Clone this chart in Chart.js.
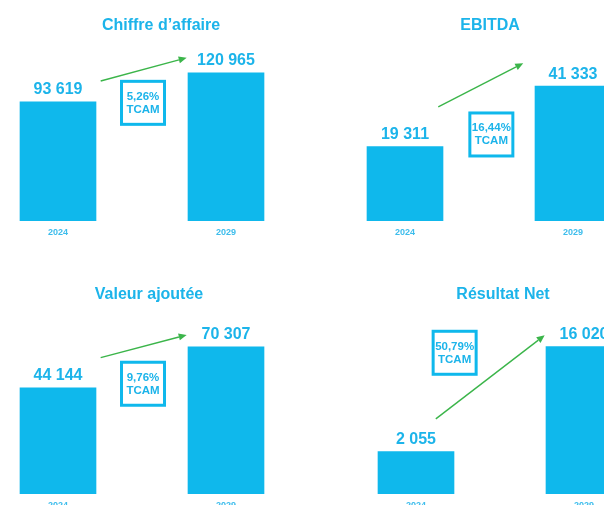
<!DOCTYPE html>
<html lang="fr">
<head>
<meta charset="utf-8">
<title>Indicateurs 2024 - 2029</title>
<script src="https://cdn.jsdelivr.net/npm/chart.js"></script>
<style>
  html, body { margin: 0; padding: 0; width: 604px; height: 505px; overflow: hidden; background: #fff; }
  canvas { position: absolute; }
</style>
</head>
<body>
<canvas id="chart-ca"></canvas>
<canvas id="chart-ebitda"></canvas>
<canvas id="chart-va"></canvas>
<canvas id="chart-rn"></canvas>
<script>
const annees = ['2024', '2029'];
const titres = ['Chiffre d’affaire', 'EBITDA', 'Valeur ajoutée', 'Résultat Net'];
const chiffreAffaire = [93619, 120965];
const ebitda = [19311, 41333];
const valeurAjoutee = [44144, 70307];
const resultatNet = [2055, 16020];
const tcam = ['5,26%', '16,44%', '9,76%', '50,79%'];

const BLEU = '#0fb8ec';
const BLEU_TEXTE = '#1cb4ea';
const BLEU_ANNEE = '#3dbdec';
const VERT = '#3bb54a';
const FONT = '"Liberation Sans", Arial, Helvetica, sans-serif';

// Mise en page de chaque graphique (flèche et encadré en fraction de la zone du graphique)
const panneaux = [
    { id: 'chart-ca', titre: titres[0], valeurs: chiffreAffaire, tcam: tcam[0],
      left: -26, top: 0, width: 374, height: 246, padRight: 38, padBottom: 2.2,
      yMin: -18900, yMax: 142400,
      fleche: [0.377, 0.181, 0.633, 0.046], cadre: [0.503, 0.309] },
    { id: 'chart-ebitda', titre: titres[1], valeurs: ebitda, tcam: tcam[1],
      left: 321, top: 0, width: 338, height: 246, padRight: 2, padBottom: 2.2,
      yMin: -7650, yMax: 54400,
      fleche: [0.349, 0.332, 0.602, 0.078], cadre: [0.507, 0.494] },
    { id: 'chart-va', titre: titres[2], valeurs: valeurAjoutee, tcam: tcam[2],
      left: -26, top: 269, width: 350, height: 251, padRight: 14, padBottom: 3.2,
      yMin: -23700, yMax: 88000,
      fleche: [0.377, 0.221, 0.633, 0.091], cadre: [0.503, 0.370] },
    { id: 'chart-rn', titre: titres[3], valeurs: resultatNet, tcam: tcam[3],
      left: 332, top: 269, width: 342, height: 251, padRight: 6, padBottom: 3.2,
      yMin: -3570, yMax: 19700,
      fleche: [0.309, 0.571, 0.633, 0.093], cadre: [0.365, 0.193] }
];

// 93619 -> "93 619"
function formatNombre(v) {
    return String(v).replace(/\B(?=(\d{3})+(?!\d))/g, ' ');
}

function dessinerFleche(ctx, x1, y1, x2, y2) {
    const ang = Math.atan2(y2 - y1, x2 - x1);
    const c = Math.cos(ang), s = Math.sin(ang);
    const tete = 8, demi = 3.5;
    ctx.strokeStyle = VERT;
    ctx.fillStyle = VERT;
    ctx.lineWidth = 1.4;
    ctx.beginPath();
    ctx.moveTo(x1, y1);
    ctx.lineTo(x2 - tete * c, y2 - tete * s);
    ctx.stroke();
    ctx.beginPath();
    ctx.moveTo(x2, y2);
    ctx.lineTo(x2 - tete * c + demi * s, y2 - tete * s - demi * c);
    ctx.lineTo(x2 - tete * c - demi * s, y2 - tete * s + demi * c);
    ctx.closePath();
    ctx.fill();
}

// Titre, étiquettes de valeur, flèche et encadré TCAM
const decorPlugin = {
    id: 'decor',
    afterDatasetsDraw(chart, args, opts) {
        const ctx = chart.ctx;
        const area = chart.chartArea;
        const w = area.right - area.left;
        const h = area.bottom - area.top;
        ctx.save();

        // titre centré sur le canvas
        ctx.fillStyle = BLEU_TEXTE;
        ctx.font = 'bold 16px ' + FONT;
        ctx.textAlign = 'center';
        ctx.textBaseline = 'middle';
        ctx.fillText(opts.titre, chart.width / 2, 25.5);

        // valeurs au-dessus des barres
        const meta = chart.getDatasetMeta(0);
        ctx.textBaseline = 'alphabetic';
        meta.data.forEach((bar, i) => {
            ctx.fillText(formatNombre(chart.data.datasets[0].data[i]), bar.x, bar.y - 7.5);
        });

        // flèche verte
        const f = opts.fleche;
        dessinerFleche(ctx, area.left + f[0] * w, area.top + f[1] * h,
                            area.left + f[2] * w, area.top + f[3] * h);

        // encadré TCAM
        const cx = area.left + opts.cadre[0] * w;
        const cy = area.top + opts.cadre[1] * h;
        ctx.strokeStyle = BLEU;
        ctx.lineWidth = 3;
        ctx.strokeRect(cx - 21.5, cy - 21.5, 43, 43);
        ctx.fillStyle = BLEU_TEXTE;
        ctx.font = 'bold 11.5px ' + FONT;
        ctx.textBaseline = 'middle';
        ctx.fillText(opts.tcam, cx, cy - 6.2);
        ctx.fillText('TCAM', cx, cy + 6.8);

        ctx.restore();
    }
};

panneaux.forEach(p => {
    const canvas = document.getElementById(p.id);
    canvas.width = p.width;
    canvas.height = p.height;
    canvas.style.left = p.left + 'px';
    canvas.style.top = p.top + 'px';

    new Chart(canvas.getContext('2d'), {
        type: 'bar',
        data: {
            labels: annees,
            datasets: [{
                data: p.valeurs,
                backgroundColor: BLEU,
                borderWidth: 0,
                barThickness: 76,
                base: p.yMin
            }]
        },
        options: {
            responsive: false,
            animation: false,
            devicePixelRatio: 1,
            layout: { padding: { top: 50, right: p.padRight, bottom: p.padBottom, left: 0 } },
            plugins: {
                legend: { display: false },
                tooltip: { enabled: false },
                title: { display: false },
                decor: { titre: p.titre, tcam: p.tcam, fleche: p.fleche, cadre: p.cadre }
            },
            scales: {
                x: {
                    grid: { display: false, drawTicks: false },
                    border: { display: false },
                    ticks: { color: BLEU_ANNEE, font: { family: FONT, size: 9, weight: 'bold' }, padding: 6 }
                },
                y: { display: false, min: p.yMin, max: p.yMax }
            }
        },
        plugins: [decorPlugin]
    });
});
</script>
</body>
</html>
